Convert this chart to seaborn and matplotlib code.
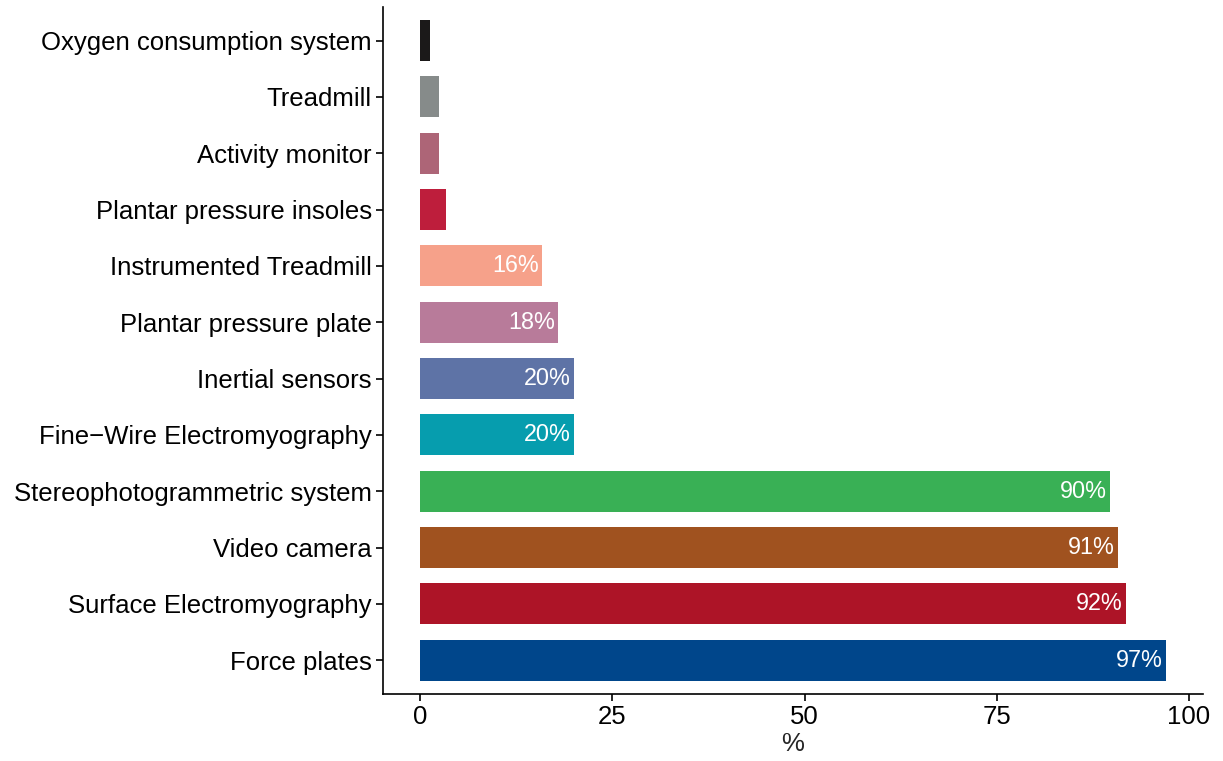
import matplotlib
matplotlib.use("Agg")
import matplotlib.pyplot as plt
import seaborn as sns
import pandas as pd

categories = ["Force plates", "Surface Electromyography", "Video camera",
              "Stereophotogrammetric system", "Fine\u2212Wire Electromyography",
              "Inertial sensors", "Plantar pressure plate", "Instrumented Treadmill",
              "Plantar pressure insoles", "Activity monitor", "Treadmill",
              "Oxygen consumption system"]
values = [97.0, 91.8, 90.8, 89.7, 20.0, 20.0, 17.9, 15.9, 3.4, 2.4, 2.4, 1.3]
colors = ["#00468B", "#AD1427", "#A0521F", "#39B055", "#069DAE", "#5E73A6",
          "#B87B9A", "#F6A18A", "#BE1E3C", "#AD6577", "#868B8A", "#1B1919"]
xticks = [0, 25, 50, 75, 100]

sns.set_style("white")
plt.rcParams['font.family'] = ['Liberation Sans', 'DejaVu Sans']

df = pd.DataFrame({"cat": categories, "val": values})
order = categories[::-1]

fig = plt.figure(figsize=(12.23, 7.61), dpi=100)
top, bottom = 6.7, 694.0
ax = fig.add_axes([383 / 1223, 1 - bottom / 761, (1203 - 383) / 1223, (bottom - top) / 761])
sns.barplot(data=df, y="cat", x="val", order=order, hue="cat", hue_order=order,
            palette=dict(zip(categories, colors)), width=0.73, orient="h",
            legend=False, ax=ax, saturation=1, linewidth=0)

ax.set_xlim(-4.85, 101.85)
ax.set_ylim(len(categories) - 0.4, -0.6)
ax.set_xticks(xticks)
ax.set_xticklabels([str(t) for t in xticks])
ax.set_xlabel("%", fontsize=18.5, labelpad=2)
ax.set_ylabel("")
ax.tick_params(axis="both", labelsize=18.5, length=5, width=1.2, color="black",
               labelcolor="black", direction="out", pad=3)
ax.tick_params(axis="x", bottom=True)
ax.tick_params(axis="y", left=True)
for side in ["top", "right"]:
    ax.spines[side].set_visible(False)
for side in ["left", "bottom"]:
    ax.spines[side].set_color("black")
    ax.spines[side].set_linewidth(1.2)

for i, c in enumerate(order):
    v = values[categories.index(c)]
    if v >= 10:
        ax.text(v - 0.4, i, f"{round(v):d}%", color="white", ha="right",
                va="center", fontsize=16.8)

fig.savefig("out.png", dpi=100)
